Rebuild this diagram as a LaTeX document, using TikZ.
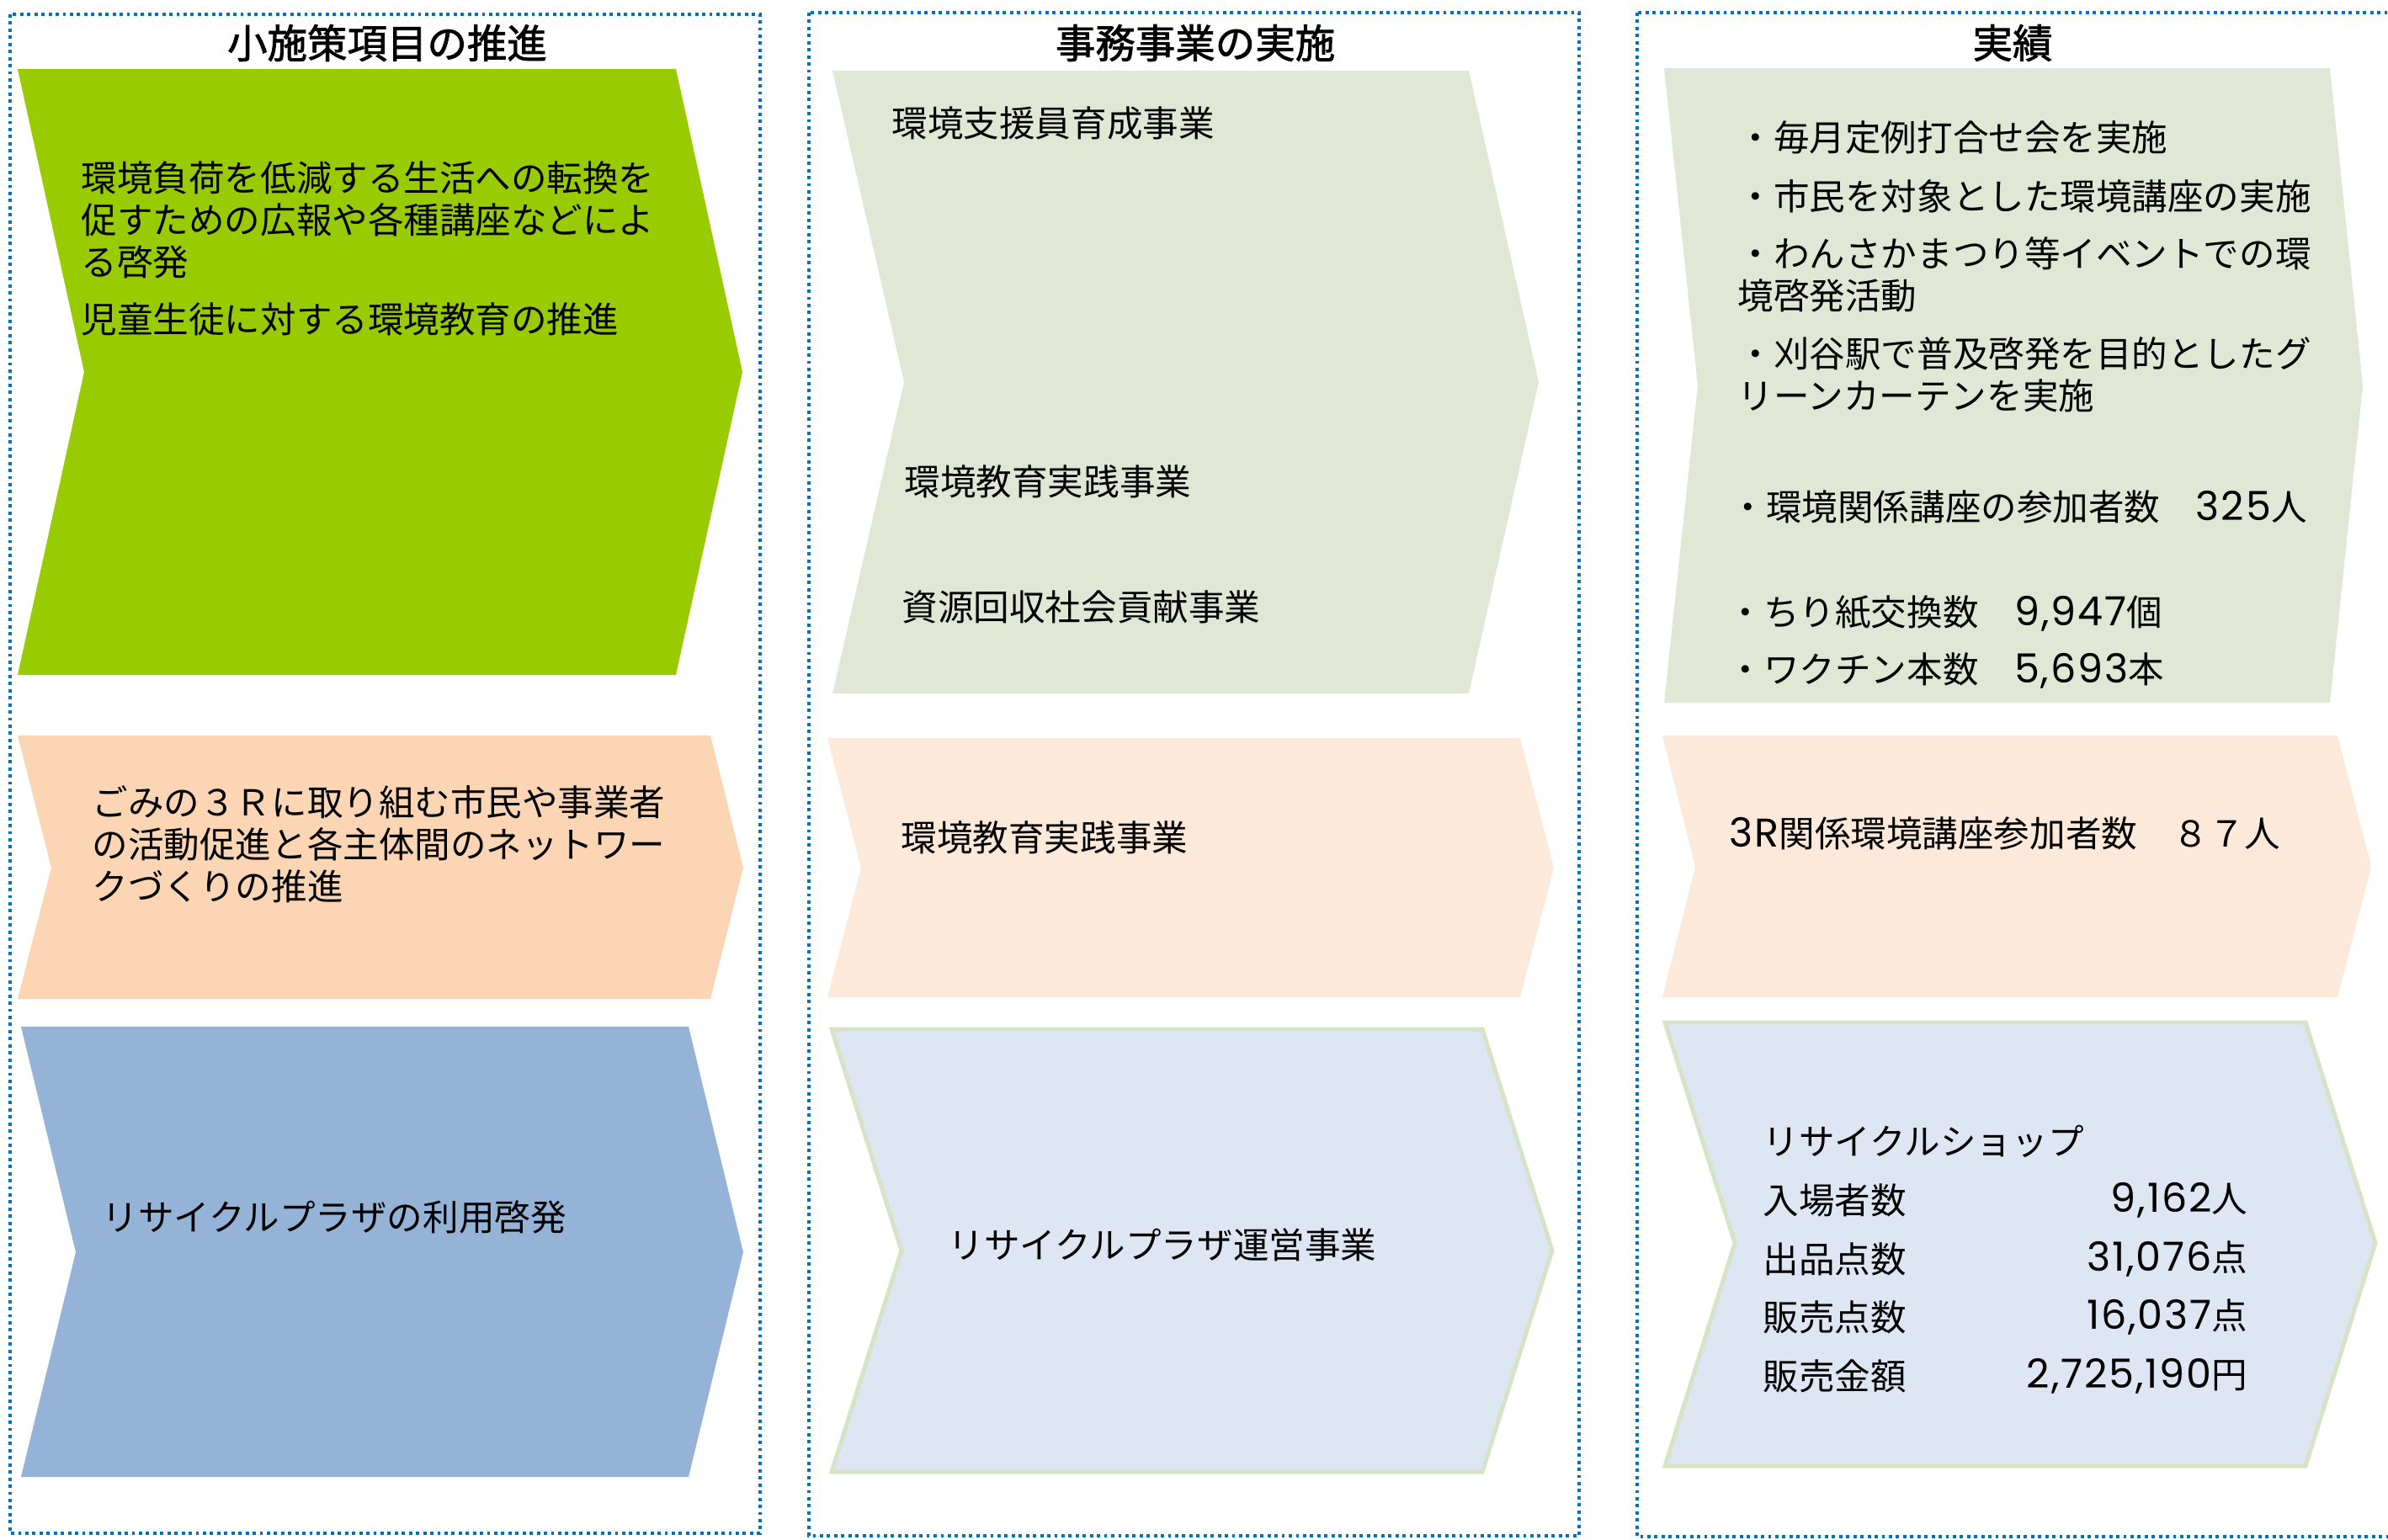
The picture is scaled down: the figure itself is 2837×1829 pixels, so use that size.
\documentclass[tikz,border=0pt]{standalone}
\usepackage{fontspec}
\setmainfont{Noto Sans CJK JP}
\newfontfamily\titlefont{Noto Sans CJK JP}[FakeBold=1.6]
\newfontfamily\numf{Poppins}[Scale=1.12,LetterSpace=4]
\definecolor{dotblue}{RGB}{0,112,192}
\definecolor{cgreen}{RGB}{153,204,0}
\definecolor{cpeach}{RGB}{252,213,180}
\definecolor{cblue}{RGB}{149,179,215}
\definecolor{lgreen}{RGB}{224,232,213}
\definecolor{lpeach}{RGB}{253,233,217}
\definecolor{lblue}{RGB}{221,230,242}
\definecolor{lborder}{RGB}{214,227,196}
\tikzset{
  colbox/.style={draw=dotblue, line width=0.9pt, dash pattern=on 1.1pt off 1.3pt},
  coltitle/.style={font=\fontsize{13.5}{16}\selectfont\titlefont, inner sep=0pt},
  txt/.style={font=\fontsize{12.1}{14.2}\selectfont, inner sep=0pt, anchor=west, align=left},
  vtxt/.style={font=\fontsize{12.1}{14.2}\selectfont, inner sep=0pt, anchor=east},
  bordered/.style={draw=lborder, line width=1.4pt, line join=miter}
}
\begin{document}
\begin{tikzpicture}[x=0.01cm,y=-0.01cm]
\useasboundingbox (0,0) rectangle (2837,1829);
\fill[white] (0,0) rectangle (2837,1829);

% column frames
\draw[colbox] (12,17) rectangle (903,1822);
\draw[colbox] (961,15) rectangle (1876,1825);
\draw[colbox] (1945,15) rectangle (2850,1826);

% titles
\node[coltitle] (t1) at (460,51) {小施策項目の推進};
\node[coltitle] (t2) at (1420,51) {事務事業の実施};
\node[coltitle] (t3) at (2391,51) {実績};

% column 1 chevrons
\fill[cgreen] (21,82) -- (803,82) -- (882,442) -- (803,802) -- (21,802) -- (100,442) -- cycle;
\fill[cpeach] (21,874) -- (844,874) -- (883,1031) -- (844,1187) -- (21,1187) -- (61,1031) -- cycle;
\fill[cblue] (25,1220) -- (818,1220) -- (883,1488) -- (818,1755) -- (25,1755) -- (90,1488) -- cycle;

% column 2 chevrons
\fill[lgreen] (989,84) -- (1745,84) -- (1828,454) -- (1745,824) -- (989,824) -- (1074,454) -- cycle;
\fill[lpeach] (983,877) -- (1806,877) -- (1846,1031) -- (1806,1185) -- (983,1185) -- (1023,1031) -- cycle;
\filldraw[fill=lblue, bordered] (988,1223) -- (1761,1223) -- (1844,1486) -- (1761,1749) -- (988,1749) -- (1071,1486) -- cycle;

% column 3 chevrons
\fill[lgreen] (1977,81) -- (2768,81) -- (2807,458) -- (2768,835) -- (1977,835) -- (2017,458) -- cycle;
\fill[lpeach] (1975,874) -- (2777,874) -- (2817,1030) -- (2777,1185) -- (1975,1185) -- (2014,1030) -- cycle;
\filldraw[fill=lblue, bordered] (1978,1215) -- (2739,1215) -- (2822,1477) -- (2739,1742) -- (1978,1742) -- (2061,1477) -- cycle;

% column 1 texts
\node[txt] (a1) at (96,261) {環境負荷を低減する生活への転換を\\促すための広報や各種講座などによ\\る啓発};
\node[txt] (a2) at (96,379) {児童生徒に対する環境教育の推進};
\node[txt] (a3) at (109,1003) {ごみの３Ｒに取り組む市民や事業者\\の活動促進と各主体間のネットワー\\クづくりの推進};
\node[txt] (a4) at (121,1446) {リサイクルプラザの利用啓発};

% column 2 texts
\node[txt] (b1) at (1059,146) {環境支援員育成事業};
\node[txt] (b2) at (1074,572) {環境教育実践事業};
\node[txt] (b3) at (1071,721) {資源回収社会貢献事業};
\node[txt] (b4) at (1070,995) {環境教育実践事業};
\node[txt] (b5) at (1126,1479) {リサイクルプラザ運営事業};

% column 3 texts
\node[txt] (c1) at (2064,163) {・毎月定例打合せ会を実施};
\node[txt] (c2) at (2064,233) {・市民を対象とした環境講座の実施};
\node[txt] (c3) at (2064,326) {・わんさかまつり等イベントでの環\\境啓発活動};
\node[txt] (c4) at (2064,445) {・刈谷駅で普及啓発を目的としたグ\\リーンカーテンを実施};
\node[txt] (c5) at (2055,602) {・環境関係講座の参加者数　{\numf 325}人};
\node[txt] (c6) at (2052,729) {・ちり紙交換数　{\numf 9,947}個};
\node[txt] (c7) at (2052,797) {・ワクチン本数　{\numf 5,693}本};
\node[txt] (c8) at (2054,990) {{\numf 3R}関係環境講座参加者数　８７人};

\node[txt] (d0) at (2094,1356) {リサイクルショップ};
\node[txt] (d1) at (2094,1426) {入場者数};
\node[txt] (d2) at (2094,1496) {出品点数};
\node[txt] (d3) at (2094,1565) {販売点数};
\node[txt] (d4) at (2094,1635) {販売金額};
\node[vtxt] (e1) at (2671,1426) {{\numf 9,162}人};
\node[vtxt] (e2) at (2671,1496) {{\numf 31,076}点};
\node[vtxt] (e3) at (2671,1565) {{\numf 16,037}点};
\node[vtxt] (e4) at (2671,1635) {{\numf 2,725,190}円};
\end{tikzpicture}
\end{document}
